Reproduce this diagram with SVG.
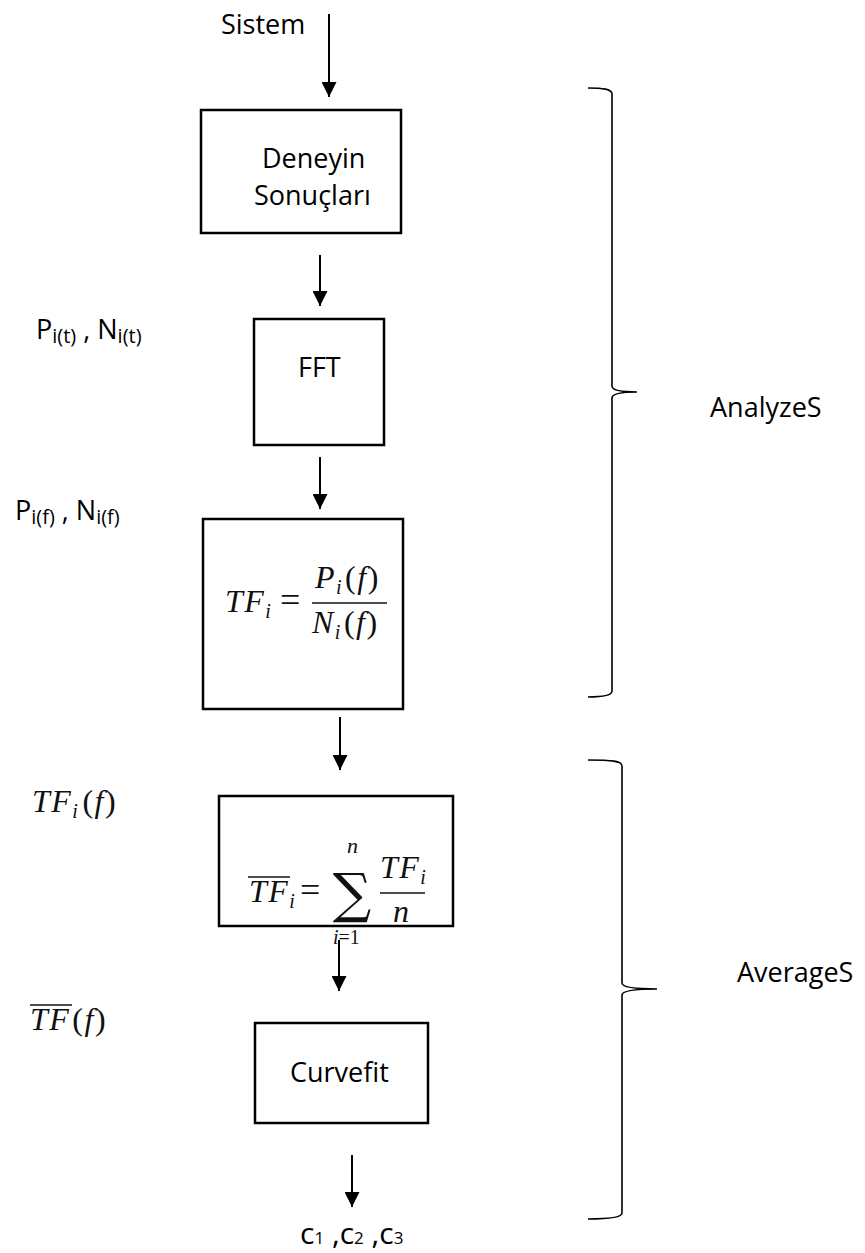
<svg xmlns="http://www.w3.org/2000/svg" width="865" height="1253" viewBox="0 0 865 1253">
<defs>
<style>
.box{fill:#fff;stroke:#000;stroke-width:2.5}
.t{font-family:"Open Sans","Liberation Sans",sans-serif;font-size:27px;fill:#000}
.m{font-family:"Liberation Serif",serif;font-style:italic;font-size:32px;letter-spacing:1.5px;fill:#111}
.up{font-style:normal}
.sub{font-size:20px}
.edge{stroke:#000;stroke-width:2;fill:none}
.brace{stroke:#000;stroke-width:1.6;fill:none}
.ol{stroke:#111;stroke-width:1.5}
</style>
<marker id="ah" viewBox="0 0 15 15" refX="15" refY="7.5" markerWidth="15" markerHeight="15" markerUnits="userSpaceOnUse" orient="auto">
<path d="M0,0 L15,7.5 L0,15 z" fill="#000"/>
</marker>
</defs>
<rect width="865" height="1253" fill="#fff"/>

<g id="connectors">
<line class="edge" x1="329" y1="14" x2="329" y2="97" marker-end="url(#ah)"/>
<line class="edge" x1="320" y1="255" x2="320" y2="306" marker-end="url(#ah)"/>
<line class="edge" x1="320" y1="457" x2="320" y2="509" marker-end="url(#ah)"/>
<line class="edge" x1="340" y1="717" x2="340" y2="770" marker-end="url(#ah)"/>
<line class="edge" x1="339" y1="940" x2="339" y2="991" marker-end="url(#ah)"/>
<line class="edge" x1="352" y1="1155" x2="352" y2="1207" marker-end="url(#ah)"/>
</g>

<g id="label-sistem"><text class="t" x="221" y="34">Sistem</text></g>

<g id="node-deneyin">
<rect class="box" x="201" y="110" width="200" height="123"/>
<text class="t" x="262" y="168">Deneyin</text>
<text class="t" x="254" y="205">Sonuçları</text>
</g>

<g id="label-pt">
<text class="t" x="36" y="339">P<tspan class="sub" dy="4">i(t)</tspan><tspan dy="-4"> , N</tspan><tspan class="sub" dy="4">i(t)</tspan></text>
</g>

<g id="node-fft">
<rect class="box" x="254" y="319" width="130" height="126"/>
<text class="t" x="298" y="377">FFT</text>
</g>

<g id="label-pf">
<text class="t" x="15" y="520">P<tspan class="sub" dy="4">i(f)</tspan><tspan dy="-4"> , N</tspan><tspan class="sub" dy="4">i(f)</tspan></text>
</g>

<g id="node-tf">
<rect class="box" x="203" y="519" width="200" height="190"/>
<text class="m" x="225" y="612">TF<tspan class="sub" dy="6">i</tspan></text>
<text class="m up" x="280" y="612" style="font-size:36px">=</text>
<text class="m" x="315" y="588">P<tspan class="sub" dy="6">i</tspan><tspan class="up" dy="-6" dx="2">(</tspan>f<tspan class="up">)</tspan></text>
<line class="ol" x1="312" y1="603" x2="387" y2="603"/>
<text class="m" x="312" y="633">N<tspan class="sub" dy="6">i</tspan><tspan class="up" dy="-6" dx="2">(</tspan>f<tspan class="up">)</tspan></text>
</g>

<g id="label-tfif">
<text class="m" x="32" y="812">TF<tspan class="sub" dy="6">i</tspan><tspan class="up" dy="-6" dx="3">(</tspan>f<tspan class="up">)</tspan></text>
</g>

<g id="node-sum">
<rect class="box" x="219" y="796" width="234" height="130"/>
<line class="ol" x1="248" y1="877" x2="290" y2="877"/>
<text class="m" x="249" y="902">TF<tspan class="sub" dy="6">i</tspan></text>
<text class="m up" x="300" y="902" style="font-size:36px">=</text>
<text x="352" y="912" text-anchor="middle" style="font-family:'DejaVu Serif',serif;font-size:54px;fill:#111">∑</text>
<text class="m" x="347" y="853" style="font-size:22px">n</text>
<text class="m" x="333" y="944" style="font-size:20px;letter-spacing:0">i<tspan class="up">=1</tspan></text>
<text class="m" x="380" y="878">TF<tspan class="sub" dy="6">i</tspan></text>
<line class="ol" x1="380" y1="893" x2="425" y2="893"/>
<text class="m" x="393" y="922">n</text>
</g>

<g id="label-tfbar">
<line class="ol" x1="30" y1="1005" x2="72" y2="1005"/>
<text class="m" x="30" y="1030">TF<tspan class="up" dx="2">(</tspan>f<tspan class="up">)</tspan></text>
</g>

<g id="node-curvefit">
<rect class="box" x="255" y="1023" width="173" height="100"/>
<text class="t" x="290" y="1082">Curvefit</text>
</g>

<g id="label-c">
<text class="t" x="300" y="1244" style="font-size:30px">c<tspan style="font-size:17px">1</tspan> ,c<tspan style="font-size:17px">2</tspan> ,c<tspan style="font-size:17px">3</tspan></text>
</g>

<g id="brace-analyze">
<path class="brace" d="M588,88 C603,88 612,89 612,94 L612,386 C612,390 620,392 637,392 C620,392 612,394 612,398 L612,691 C612,695 603,697 588,697"/>
<text class="t" x="710" y="417">AnalyzeS</text>
</g>

<g id="brace-average">
<path class="brace" d="M588,760 C612,760 622,761 622,766 L622,983 C622,987 632,989 657,989 C632,989 622,991 622,995 L622,1213 C622,1217 612,1219 588,1219"/>
<text class="t" x="737" y="982">AverageS</text>
</g>
</svg>
